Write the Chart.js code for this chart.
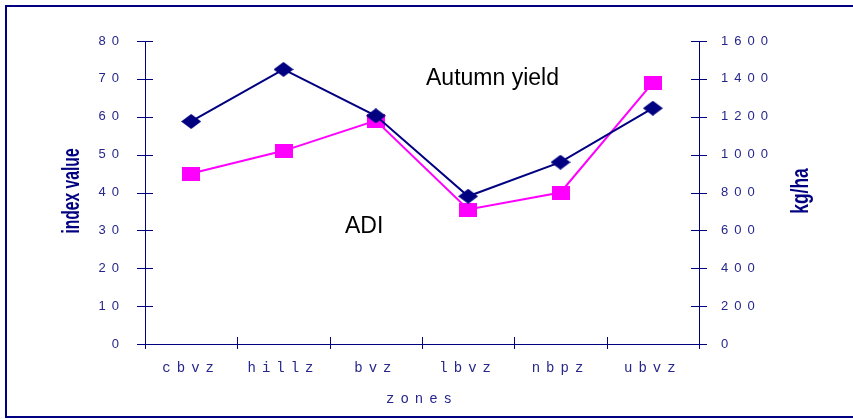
<!DOCTYPE html>
<html>
<head>
<meta charset="utf-8">
<script src="https://cdn.jsdelivr.net/npm/chart.js@4.4.0/dist/chart.umd.min.js"></script>
<style>
  html, body { margin: 0; padding: 0; background: #fff; }
  canvas { display: block; }
</style>
</head>
<body>
<canvas id="zones-chart" width="853" height="419"></canvas>
<script>
// zones along the x axis
const ZONES = ['cbvz', 'hillz', 'bvz', 'lbvz', 'nbpz', 'ubvz'];

// ADI, left axis (index value)
const ADI = [45, 51, 59, 35.5, 40, 69];

// autumn yield, right axis (kg/ha)
const AUTUMN_YIELD = [1175, 1450, 1205, 780, 960, 1245];

const INDEX_TICKS = [0, 10, 20, 30, 40, 50, 60, 70, 80];
const YIELD_TICKS = [0, 200, 400, 600, 800, 1000, 1200, 1400, 1600];

const NAVY = '#000080';
const MAGENTA = '#ff00ff';
const LABEL_COLOR = '#25258c';

// small canvases used as point styles, wider than tall
function markerCanvas(w, h, color, shape) {
    const c = document.createElement('canvas');
    c.width = w;
    c.height = h;
    const g = c.getContext('2d');
    g.fillStyle = color;
    if (shape === 'diamond') {
        g.beginPath();
        g.moveTo(w / 2, 0);
        g.lineTo(w, h / 2);
        g.lineTo(w / 2, h);
        g.lineTo(0, h / 2);
        g.closePath();
        g.fill();
    } else {
        g.fillRect(0, 0, w, h);
    }
    return c;
}

const diamond = markerCanvas(20, 15, NAVY, 'diamond');
const square = markerCanvas(18, 14, MAGENTA, 'rect');

// frame around the whole chart, plus spaced-out axis lettering
const framePlugin = {
    id: 'frame',
    beforeDraw(chart) {
        const ctx = chart.ctx;
        ctx.save();
        ctx.strokeStyle = NAVY;
        ctx.lineWidth = 2;
        ctx.strokeRect(6, 6, 870, 411);
        ctx.restore();
        ctx.letterSpacing = '6px';
    },
    beforeDatasetsDraw(chart) {
        chart.ctx.letterSpacing = '0px';
    }
};

// tick marks crossing the axes, rotated axis titles and the series notes
const decorPlugin = {
    id: 'decor',
    afterDraw(chart) {
        const ctx = chart.ctx;
        const {x, y, y1} = chart.scales;
        ctx.save();
        ctx.letterSpacing = '0px';
        ctx.strokeStyle = NAVY;
        ctx.lineWidth = 1;
        ctx.beginPath();
        INDEX_TICKS.forEach(v => {
            const py = Math.round(y.getPixelForValue(v)) + 0.5;
            ctx.moveTo(y.right - 8, py);
            ctx.lineTo(y.right + 8, py);
        });
        YIELD_TICKS.forEach(v => {
            const py = Math.round(y1.getPixelForValue(v)) + 0.5;
            ctx.moveTo(y1.left - 8, py);
            ctx.lineTo(y1.left + 8, py);
        });
        for (let i = 0; i <= ZONES.length; i++) {
            const px = Math.round(x.getPixelForValue(i - 0.5)) + 0.5;
            ctx.moveTo(px, x.top - 7);
            ctx.lineTo(px, x.top + 5);
        }
        ctx.stroke();

        // rotated, condensed axis titles
        ctx.fillStyle = NAVY;
        ctx.font = 'bold 23px "Liberation Sans", Arial, sans-serif';
        ctx.textAlign = 'center';
        ctx.textBaseline = 'alphabetic';
        [['index value', 79, 191, 0.68], ['kg/ha', 808, 191, 0.76]].forEach(([text, tx, ty, squeeze]) => {
            ctx.save();
            ctx.translate(tx, ty);
            ctx.rotate(-Math.PI / 2);
            ctx.scale(squeeze, 1);
            ctx.fillText(text, 0, 0);
            ctx.restore();
        });

        ctx.fillStyle = '#000';
        ctx.font = '23px "Liberation Sans", Arial, sans-serif';
        ctx.textAlign = 'left';
        ctx.fillText('Autumn yield', 426, 85);
        ctx.fillText('ADI', 345, 233);
        ctx.restore();
    }
};

const digitFont = {family: '"Liberation Sans", Arial, sans-serif', size: 13};
const letterFont = {family: '"Liberation Mono", "Courier New", monospace', size: 14};
const plainNumber = v => String(v);

new Chart(document.getElementById('zones-chart'), {
    type: 'line',
    data: {
        labels: ZONES,
        datasets: [
            {
                label: 'Autumn yield',
                data: AUTUMN_YIELD,
                yAxisID: 'y1',
                borderColor: NAVY,
                borderWidth: 2,
                pointStyle: diamond,
                tension: 0,
                order: 0
            },
            {
                label: 'ADI',
                data: ADI,
                yAxisID: 'y',
                borderColor: MAGENTA,
                borderWidth: 2,
                pointStyle: square,
                tension: 0,
                order: 1
            }
        ]
    },
    options: {
        responsive: false,
        animation: false,
        events: [],
        devicePixelRatio: 1,
        layout: {padding: {top: 41, left: 0, right: 0, bottom: 0}},
        plugins: {
            legend: {display: false},
            tooltip: {enabled: false}
        },
        scales: {
            x: {
                type: 'category',
                offset: true,
                grid: {display: false, drawTicks: false},
                border: {display: true, color: NAVY, width: 1},
                ticks: {color: LABEL_COLOR, font: letterFont, padding: 16, maxRotation: 0},
                title: {display: true, text: 'zones', color: LABEL_COLOR, font: letterFont, padding: {top: 0, bottom: 11}},
                afterFit(s) { s.height = 75; }
            },
            y: {
                position: 'left',
                min: 0,
                max: 80,
                grid: {display: false, drawTicks: false},
                border: {display: true, color: NAVY, width: 1},
                ticks: {color: LABEL_COLOR, font: digitFont, padding: 20, callback: plainNumber},
                afterBuildTicks(s) { s.ticks = INDEX_TICKS.map(v => ({value: v})); },
                afterFit(s) { s.width = 145; }
            },
            y1: {
                position: 'right',
                min: 0,
                max: 1600,
                grid: {display: false, drawTicks: false},
                border: {display: true, color: NAVY, width: 1},
                ticks: {color: LABEL_COLOR, font: digitFont, padding: 22, callback: plainNumber},
                afterBuildTicks(s) { s.ticks = YIELD_TICKS.map(v => ({value: v})); },
                afterFit(s) { s.width = 154; }
            }
        }
    },
    plugins: [framePlugin, decorPlugin]
});
</script>
</body>
</html>
